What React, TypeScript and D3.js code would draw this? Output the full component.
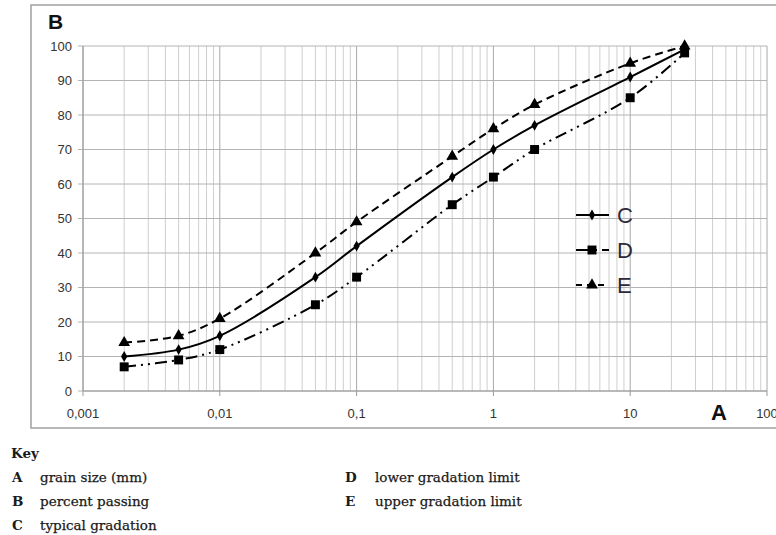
import React, { useEffect, useRef } from 'react';
import * as d3 from 'd3';

// grain sizes (mm) and percent passing
const sizes = [0.002, 0.005, 0.01, 0.05, 0.1, 0.5, 1, 2, 10, 25];
const typical = [10, 12, 16, 33, 42, 62, 70, 77, 91, 99];
const lower = [7, 9, 12, 25, 33, 54, 62, 70, 85, 98];
const upper = [14, 16, 21, 40, 49, 68, 76, 83, 95, 100];

const xTicks = [0.001, 0.01, 0.1, 1, 10, 100];
const xTickLabels = ['0,001', '0,01', '0,1', '1', '10', '100'];
const yTicks = [0, 10, 20, 30, 40, 50, 60, 70, 80, 90, 100];

const keyLeft = [['A', 'grain size (mm)'], ['B', 'percent passing'], ['C', 'typical gradation']];
const keyRight = [['D', 'lower gradation limit'], ['E', 'upper gradation limit']];

const series = [
  { name: 'C', values: typical, dash: null, marker: 'diamond' },
  { name: 'D', values: lower, dash: '12,5,2,5,2,5', marker: 'square' },
  { name: 'E', values: upper, dash: '8,5', marker: 'triangle' },
];

const W = 776;
const H = 535;

const App = () => {
  const svgRef = useRef(null);

  useEffect(() => {
    const svg = d3.select(svgRef.current);
    svg.selectAll('*').remove();

    const x = d3.scaleLog().domain([0.001, 100]).range([83, 767]);
    const y = d3.scaleLinear().domain([0, 100]).range([391, 46]);

    // outer chart frame
    svg.append('rect')
      .attr('x', 31).attr('y', 5).attr('width', 760).attr('height', 423)
      .attr('fill', 'white').attr('stroke', '#a0a0a0').attr('stroke-width', 1.5);

    // vertical log grid
    const minor = [];
    for (let e = -3; e < 2; e++) {
      for (let i = 1; i <= 9; i++) minor.push(i * Math.pow(10, e));
    }
    minor.push(100);
    svg.append('g').selectAll('line').data(minor).enter().append('line')
      .attr('x1', d => x(d)).attr('x2', d => x(d))
      .attr('y1', y(100)).attr('y2', y(0))
      .attr('stroke', d => (xTicks.includes(d) ? '#a8a8a8' : '#cfcfcf'))
      .attr('stroke-width', 1);

    // horizontal grid
    svg.append('g').selectAll('line').data(yTicks).enter().append('line')
      .attr('x1', 78).attr('x2', x(100))
      .attr('y1', d => y(d)).attr('y2', d => y(d))
      .attr('stroke', '#b4b4b4').attr('stroke-width', 1);

    // axes
    svg.append('line').attr('x1', x(0.001)).attr('x2', x(0.001))
      .attr('y1', y(100)).attr('y2', y(0)).attr('stroke', '#999');
    svg.append('line').attr('x1', x(0.001)).attr('x2', x(100))
      .attr('y1', y(0)).attr('y2', y(0)).attr('stroke', '#999');
    svg.append('g').selectAll('line').data(xTicks).enter().append('line')
      .attr('x1', d => x(d)).attr('x2', d => x(d))
      .attr('y1', y(0)).attr('y2', y(0) + 5).attr('stroke', '#999');

    svg.append('g').selectAll('text').data(yTicks).enter().append('text')
      .attr('x', 72).attr('y', d => y(d) + 4.5)
      .attr('text-anchor', 'end')
      .attr('font-family', 'Liberation Sans, Arial, sans-serif')
      .attr('font-size', 13).attr('fill', '#333')
      .text(d => d);

    svg.append('g').selectAll('text').data(xTicks).enter().append('text')
      .attr('x', d => x(d)).attr('y', 418)
      .attr('text-anchor', 'middle')
      .attr('font-family', 'Liberation Sans, Arial, sans-serif')
      .attr('font-size', 13).attr('fill', '#333')
      .text((d, i) => xTickLabels[i]);

    // axis letters
    svg.append('text').attr('x', 48).attr('y', 29)
      .attr('font-family', 'Liberation Sans, Arial, sans-serif')
      .attr('font-weight', 'bold').attr('font-size', 21).attr('fill', '#111')
      .text('B');
    svg.append('text').attr('x', 711).attr('y', 420)
      .attr('font-family', 'Liberation Sans, Arial, sans-serif')
      .attr('font-weight', 'bold').attr('font-size', 22).attr('fill', '#111')
      .text('A');

    const line = d3.line()
      .x(d => x(d[0]))
      .y(d => y(d[1]))
      .curve(d3.curveCatmullRom.alpha(0.5));

    const markerPath = (m) => {
      if (m === 'diamond') return d3.symbol(d3.symbolDiamond, 34)();
      if (m === 'square') return d3.symbol(d3.symbolSquare, 80)();
      return d3.symbol(d3.symbolTriangle, 60)();
    };

    series.forEach(s => {
      const pts = sizes.map((v, i) => [v, s.values[i]]);
      svg.append('path')
        .attr('d', line(pts))
        .attr('fill', 'none')
        .attr('stroke', '#000')
        .attr('stroke-width', 2)
        .attr('stroke-dasharray', s.dash);
      svg.append('g').selectAll('path').data(pts).enter().append('path')
        .attr('transform', d => `translate(${x(d[0])},${y(d[1])})`)
        .attr('d', markerPath(s.marker))
        .attr('fill', '#000');
    });

    // legend
    const leg = svg.append('g');
    series.forEach((s, i) => {
      const ly = 215 + i * 35;
      leg.append('line')
        .attr('x1', 576).attr('x2', 609).attr('y1', ly).attr('y2', ly)
        .attr('stroke', '#000').attr('stroke-width', 2)
        .attr('stroke-dasharray', s.dash === null ? null : (s.name === 'D' ? '14,5,2,5' : '6,5'));
      leg.append('path')
        .attr('transform', `translate(592,${ly})`)
        .attr('d', markerPath(s.marker)).attr('fill', '#000');
      leg.append('text')
        .attr('x', 617).attr('y', ly + 8)
        .attr('font-family', 'Liberation Sans, Arial, sans-serif')
        .attr('font-size', 22).attr('fill', '#2a2a3a')
        .text(s.name);
    });

    // key below chart
    const serif = 'DejaVu Serif, serif';
    const fs = 13.5;
    svg.append('text').attr('x', 11).attr('y', 458)
      .attr('font-family', serif).attr('font-weight', 'bold')
      .attr('font-size', fs).attr('fill', '#1a1a1a').text('Key');
    const keyRow = (kx, tx, rows) => rows.forEach((k, i) => {
      svg.append('text').attr('x', kx).attr('y', 482 + i * 24)
        .attr('font-family', serif).attr('font-weight', 'bold')
        .attr('font-size', fs).attr('fill', '#1a1a1a').text(k[0]);
      svg.append('text').attr('x', tx).attr('y', 482 + i * 24)
        .attr('font-family', serif).attr('font-size', fs)
        .attr('fill', '#1a1a1a').attr('stroke', '#1a1a1a').attr('stroke-width', 0.25)
        .text(k[1]);
    });
    keyRow(12, 40, keyLeft);
    keyRow(345, 375, keyRight);
  }, []);

  return (
    <svg ref={svgRef} width={W} height={H}
      style={{ position: 'absolute', left: 0, top: 0, background: 'white' }} />
  );
};

export default App;
